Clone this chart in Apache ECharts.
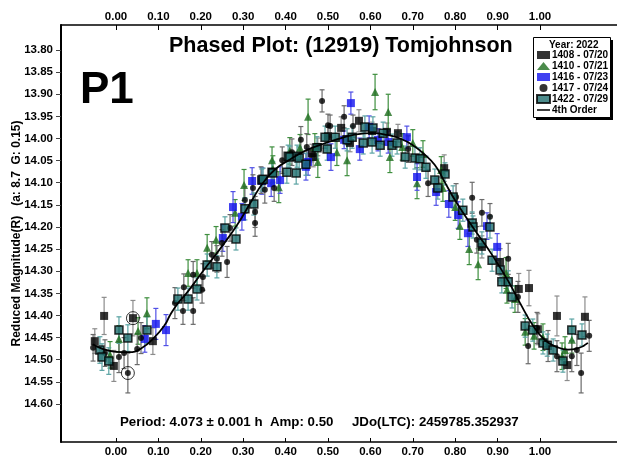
<!DOCTYPE html>
<html>
<head>
<meta charset="utf-8">
<script src="https://cdn.jsdelivr.net/npm/echarts@6/dist/echarts.min.js"></script>
<style>html,body{margin:0;padding:0;background:#fff}#c{width:617px;height:458px}</style>
</head>
<body>
<div id="c"></div>
<script>
// ---- data: [phase, reduced magnitude, error] ----
const s1408 = [[-0.050,14.458,0.028],[-0.028,14.401,0.042],[-0.005,14.514,0.035],[0.040,14.406,0.040],[0.087,14.458,0.030],[0.462,14.033,0.020],[0.465,14.042,0.022],[0.476,14.019,0.020],[0.500,13.995,0.020],[0.531,13.976,0.025],[0.552,14.010,0.020],[0.573,13.960,0.025],[0.604,13.983,0.020],[0.639,13.985,0.020],[0.665,13.988,0.020],[0.774,14.067,0.030],[0.863,14.245,0.025],[0.906,14.279,0.030],[0.950,14.340,0.035],[0.974,14.338,0.040],[0.995,14.431,0.035],[1.040,14.401,0.045],[1.064,14.512,0.035],[1.106,14.403,0.045]];
const s1410 = [[-0.014,14.489,0.030],[0.007,14.453,0.030],[0.052,14.435,0.030],[0.073,14.395,0.035],[0.170,14.304,0.030],[0.191,14.304,0.030],[0.215,14.247,0.030],[0.236,14.229,0.030],[0.281,14.168,0.030],[0.302,14.105,0.035],[0.368,14.049,0.030],[0.370,14.069,0.030],[0.384,14.110,0.035],[0.410,14.028,0.030],[0.434,14.021,0.030],[0.453,13.951,0.040],[0.469,14.019,0.030],[0.476,14.053,0.035],[0.521,14.031,0.030],[0.545,14.049,0.035],[0.611,13.895,0.040],[0.642,13.940,0.040],[0.646,14.042,0.035],[0.675,14.019,0.030],[0.700,14.010,0.030],[0.710,14.101,0.035],[0.724,14.035,0.030],[0.767,14.071,0.030],[0.771,14.112,0.030],[0.800,14.155,0.030],[0.811,14.198,0.030],[0.833,14.250,0.035],[0.854,14.284,0.035],[0.920,14.304,0.035],[0.922,14.342,0.030],[0.941,14.363,0.030],[0.965,14.437,0.030],[0.986,14.446,0.030],[1.007,14.449,0.030],[1.052,14.492,0.030],[1.059,14.478,0.030],[1.075,14.455,0.030]];
const s1416 = [[0.068,14.453,0.030],[0.094,14.419,0.035],[0.118,14.433,0.035],[0.252,14.225,0.030],[0.276,14.155,0.035],[0.297,14.177,0.030],[0.321,14.096,0.030],[0.344,14.096,0.030],[0.366,14.101,0.030],[0.387,14.094,0.030],[0.448,14.064,0.030],[0.453,14.053,0.030],[0.507,14.042,0.030],[0.538,14.003,0.020],[0.554,13.920,0.025],[0.575,14.024,0.025],[0.597,13.974,0.025],[0.618,14.003,0.025],[0.642,14.008,0.025],[0.686,13.997,0.025],[0.710,14.087,0.030],[0.755,14.121,0.030],[0.785,14.148,0.030],[0.807,14.173,0.030],[0.830,14.214,0.030],[0.875,14.198,0.030],[0.899,14.245,0.030]];
const s1417 = [[-0.054,14.473,0.030],[-0.026,14.485,0.030],[0.007,14.494,0.035],[0.019,14.485,0.035],[0.028,14.530,0.045],[0.050,14.476,0.035],[0.059,14.451,0.035],[0.139,14.372,0.035],[0.158,14.390,0.030],[0.160,14.336,0.030],[0.182,14.390,0.030],[0.182,14.308,0.030],[0.203,14.342,0.030],[0.205,14.313,0.030],[0.226,14.263,0.030],[0.238,14.272,0.030],[0.250,14.236,0.030],[0.262,14.279,0.035],[0.269,14.202,0.030],[0.304,14.139,0.030],[0.323,14.112,0.030],[0.328,14.166,0.035],[0.328,14.191,0.030],[0.342,14.094,0.030],[0.351,14.116,0.030],[0.373,14.112,0.030],[0.392,14.049,0.030],[0.415,14.031,0.030],[0.436,14.003,0.030],[0.450,14.019,0.030],[0.486,13.915,0.025],[0.500,13.970,0.025],[0.505,13.972,0.025],[0.538,13.951,0.025],[0.559,13.972,0.025],[0.689,14.024,0.030],[0.736,14.101,0.030],[0.802,14.132,0.030],[0.840,14.134,0.035],[0.863,14.168,0.030],[0.882,14.177,0.030],[0.851,14.229,0.030],[0.925,14.272,0.035],[0.948,14.358,0.035],[0.972,14.469,0.040],[0.993,14.428,0.035],[1.019,14.469,0.035],[1.040,14.492,0.035],[1.075,14.492,0.035],[1.087,14.478,0.035],[1.097,14.530,0.045],[1.116,14.446,0.035]];
const s1422 = [[-0.038,14.478,0.030],[-0.033,14.494,0.030],[-0.017,14.503,0.030],[0.007,14.433,0.030],[0.028,14.451,0.030],[0.073,14.433,0.030],[0.146,14.363,0.025],[0.170,14.363,0.025],[0.191,14.340,0.025],[0.215,14.286,0.025],[0.238,14.290,0.025],[0.257,14.202,0.025],[0.283,14.227,0.025],[0.304,14.159,0.025],[0.325,14.148,0.025],[0.344,14.094,0.025],[0.347,14.092,0.025],[0.368,14.076,0.025],[0.370,14.078,0.025],[0.403,14.076,0.025],[0.406,14.040,0.025],[0.410,14.042,0.025],[0.425,14.078,0.025],[0.427,14.040,0.025],[0.432,14.044,0.025],[0.448,14.058,0.025],[0.474,14.021,0.025],[0.493,13.997,0.025],[0.498,14.024,0.025],[0.517,13.997,0.025],[0.545,14.003,0.025],[0.557,13.997,0.025],[0.583,14.010,0.025],[0.587,13.974,0.025],[0.604,14.008,0.025],[0.606,13.976,0.025],[0.623,14.015,0.025],[0.630,13.988,0.025],[0.651,14.015,0.025],[0.663,14.010,0.025],[0.682,14.042,0.025],[0.705,14.044,0.025],[0.717,14.046,0.025],[0.731,14.065,0.025],[0.752,14.094,0.025],[0.759,14.112,0.025],[0.776,14.080,0.025],[0.795,14.132,0.025],[0.818,14.162,0.025],[0.840,14.191,0.025],[0.842,14.200,0.025],[0.863,14.236,0.025],[0.882,14.200,0.025],[0.887,14.275,0.025],[0.906,14.297,0.025],[0.910,14.324,0.025],[0.925,14.324,0.025],[0.934,14.358,0.025],[0.965,14.424,0.025],[0.983,14.433,0.025],[1.007,14.462,0.025],[1.017,14.467,0.025],[1.031,14.478,0.025],[1.054,14.503,0.025],[1.075,14.433,0.025],[1.099,14.444,0.025]];
const flagged = [[0.028,14.530],[0.040,14.406]];
const fit4 = [[-0.055,14.465],[-0.03,14.476],[0.0,14.482],[0.03,14.483],[0.06,14.474],[0.09,14.450],[0.116,14.420],[0.127,14.400],[0.144,14.375],[0.167,14.349],[0.205,14.300],[0.245,14.250],[0.286,14.195],[0.321,14.139],[0.347,14.100],[0.375,14.070],[0.406,14.050],[0.446,14.028],[0.486,14.013],[0.528,14.000],[0.560,13.992],[0.606,13.988],[0.640,13.992],[0.670,14.000],[0.700,14.015],[0.724,14.033],[0.752,14.060],[0.775,14.098],[0.800,14.140],[0.847,14.208],[0.887,14.263],[0.925,14.322],[0.953,14.372],[0.983,14.422],[1.012,14.456],[1.042,14.472],[1.066,14.477],[1.087,14.475],[1.113,14.462]];
const xTicks = [0.00,0.10,0.20,0.30,0.40,0.50,0.60,0.70,0.80,0.90,1.00];
const yTicks = [13.80,13.85,13.90,13.95,14.00,14.05,14.10,14.15,14.20,14.25,14.30,14.35,14.40,14.45,14.50,14.55,14.60];
const seriesNames = ['1408 - 07/20','1410 - 07/21','1416 - 07/23','1417 - 07/24','1422 - 07/29','4th Order'];

const FONT = 'Liberation Sans, Arial, sans-serif';
const chart = echarts.init(document.getElementById('c'), null, {renderer:'canvas'});

function errSeries(data, color, z){
  return {
    type:'custom', silent:true, z:z, clip:true,
    encode:{x:0,y:1},
    data:data,
    renderItem:function(params, api){
      const x = api.value(0), y = api.value(1), e = api.value(2);
      const a = api.coord([x, y - e]), b = api.coord([x, y + e]);
      const c = 2.5;
      const st = {stroke:color, lineWidth:1.2};
      return {type:'group', children:[
        {type:'line', shape:{x1:a[0],y1:a[1],x2:b[0],y2:b[1]}, style:st},
        {type:'line', shape:{x1:a[0]-c,y1:a[1],x2:a[0]+c,y2:a[1]}, style:st},
        {type:'line', shape:{x1:b[0]-c,y1:b[1],x2:b[0]+c,y2:b[1]}, style:st}
      ]};
    }
  };
}
const xy = d => d.map(p => [p[0], p[1]]);

const xMin = -0.1297, xMax = 1.1816;
const yMin = 13.7435, yMax = 14.6859;
const tickLabel = {formatter:v=>v.toFixed(2), fontFamily:FONT, fontSize:11.5, fontWeight:'bold', color:'#000'};

const option = {
  animation:false,
  backgroundColor:'#fff',
  textStyle:{fontFamily:FONT},
  grid:{left:61, top:25, right:0, bottom:16, containLabel:false, outerBoundsMode:'none'},
  title:{text:'Phased Plot: (12919) Tomjohnson', left:164, top:30,
    textStyle:{fontFamily:FONT, fontSize:21.5, fontWeight:'bold', color:'#000'}},
  legend:{
    orient:'vertical', left:536, top:50, itemWidth:13, itemHeight:8, itemGap:1,
    padding:0,
    data:[
      {name:seriesNames[0]},{name:seriesNames[1]},{name:seriesNames[2]},{name:seriesNames[3]},{name:seriesNames[4]},
      {name:seriesNames[5], icon:'path://M0,0 L26,0 L26,3 L0,3 Z', itemStyle:{color:'#000'}}
    ],
    textStyle:{fontFamily:FONT, fontSize:10, fontWeight:'bold', color:'#000', lineHeight:10, padding:[0,0,0,-3]},
    selectedMode:false
  },
  xAxis:[
    {type:'value', position:'bottom', min:xMin, max:xMax,
     axisLine:{show:true, onZero:false, lineStyle:{color:'#000', width:1.5}},
     axisTick:{show:true, inside:true, length:4, customValues:xTicks, lineStyle:{color:'#000'}},
     axisLabel:Object.assign({customValues:xTicks, margin:4}, tickLabel),
     splitLine:{show:false}},
    {type:'value', position:'top', min:xMin, max:xMax,
     axisLine:{show:true, onZero:false, lineStyle:{color:'#000', width:1.5}},
     axisTick:{show:true, inside:true, length:5, customValues:xTicks, lineStyle:{color:'#000'}},
     axisLabel:Object.assign({customValues:xTicks, margin:2}, tickLabel),
     splitLine:{show:false}}
  ],
  yAxis:{type:'value', inverse:true, min:yMin, max:yMax,
    name:'Reduced Magnitude(R)   (a: 8.7  G: 0.15)', nameLocation:'middle', nameGap:38, nameRotate:90,
    nameMoveOverlap:false,
    nameTextStyle:{fontFamily:FONT, fontSize:12, fontWeight:'bold', color:'#000'},
    axisLine:{show:true, onZero:false, lineStyle:{color:'#000', width:2}},
    axisTick:{show:true, length:5, customValues:yTicks, lineStyle:{color:'#444'}},
    axisLabel:Object.assign({customValues:yTicks, margin:8}, tickLabel),
    splitLine:{show:false}},
  graphic:[
    {type:'rect', left:536, top:40, shape:{width:77, height:80}, style:{fill:'#000'}, z:-1},
    {type:'rect', left:533, top:37, shape:{width:77, height:80}, style:{fill:'#fff', stroke:'#000', lineWidth:1}, z:0},
    {type:'text', left:549, top:40, style:{text:'Year: 2022', font:'bold 10px '+FONT, fill:'#000'}},
    {type:'text', left:80, top:69, style:{text:'P1', font:'bold 44px '+FONT, fill:'#000'}},
    {type:'text', left:120, top:416, style:{text:'Period: 4.073 \u00b1 0.001 h  Amp: 0.50     JDo(LTC): 2459785.352937', font:'bold 13.3px '+FONT, fill:'#000'}}
  ],
  series:[
    errSeries(s1408, '#8c8c8c', 1),
    errSeries(s1410, '#3f8f3f', 1),
    errSeries(s1416, '#5050e6', 1),
    errSeries(s1417, '#6a6a6a', 1),
    errSeries(s1422, '#5aa3a3', 1),
    {name:seriesNames[0], type:'scatter', data:xy(s1408), symbol:'rect', symbolSize:8, itemStyle:{color:'#000'}, z:3},
    {name:seriesNames[1], type:'scatter', data:xy(s1410), symbol:'triangle', symbolSize:8, itemStyle:{color:'#1e6e1e'}, z:3},
    {name:seriesNames[2], type:'scatter', data:xy(s1416), symbol:'rect', symbolSize:8, itemStyle:{color:'#1010ee'}, z:3},
    {name:seriesNames[3], type:'scatter', data:xy(s1417), symbol:'circle', symbolSize:6, itemStyle:{color:'#000'}, z:3},
    {name:seriesNames[4], type:'scatter', data:xy(s1422), symbol:'rect', symbolSize:8, itemStyle:{color:'#1f6e6e', borderColor:'#000', borderWidth:1.5}, z:4},
    {name:'flagged', type:'scatter', data:flagged, symbol:'circle', symbolSize:13, itemStyle:{color:'transparent', borderColor:'#000', borderWidth:1}, z:4},
    {name:seriesNames[5], type:'line', data:fit4, smooth:true, symbol:'none', itemStyle:{color:'#000'}, lineStyle:{color:'#000', width:1.8}, z:5}
  ]
};
chart.setOption(option);
</script>
</body>
</html>
